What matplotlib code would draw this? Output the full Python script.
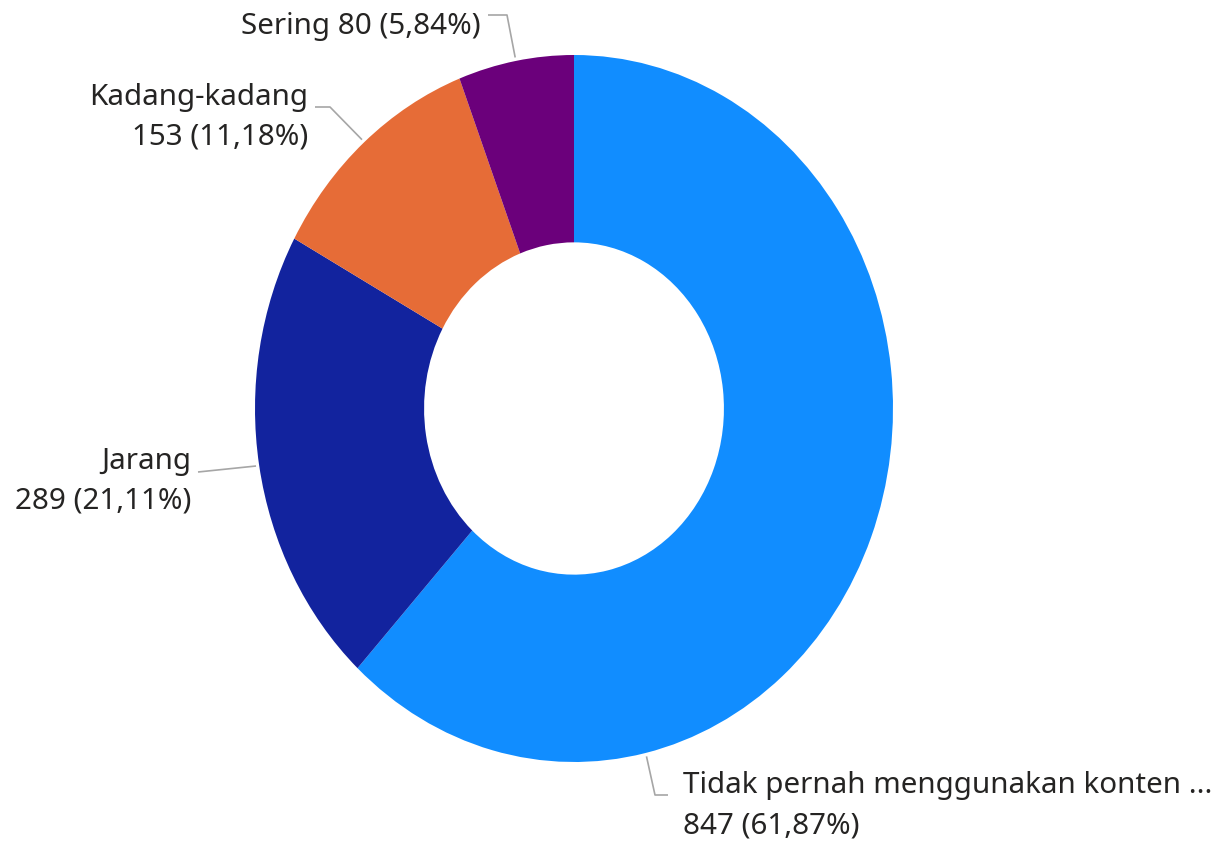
import numpy as np
import matplotlib.pyplot as plt

# data
kategori = ["Tidak pernah menggunakan konten ...", "Jarang", "Kadang-kadang", "Sering"]
jumlah = [847, 289, 153, 80]
persen = ["61,87%", "21,11%", "11,18%", "5,84%"]
warna = ["#118DFF", "#12239E", "#E66C37", "#6B007B"]

W, H = 1226, 848
cx, cy, rx, ry = 574, 408.5, 319, 353.5
TEKS = "#252423"
GARIS = "#A6A6A6"

plt.rcParams["font.family"] = ["Noto Sans", "DejaVu Sans"]

fig = plt.figure(figsize=(W / 100, H / 100), dpi=100)
ax = fig.add_axes([0, 0, 1, 1])
ax.pie(jumlah, colors=warna, startangle=90, counterclock=False, radius=1,
       wedgeprops=dict(width=0.53, linewidth=0))
ax.set_aspect("auto")
ax.set_xlim(-cx / rx, (W - cx) / rx)
ax.set_ylim(-(H - cy) / ry, cy / ry)
ax.axis("off")


def px(x, y):
    # piksel gambar -> koordinat data
    return (x - cx) / rx, (cy - y) / ry


# sudut tengah tiap irisan
total = sum(jumlah)
batas = 90 - 360 * np.cumsum([0] + jumlah) / total
tengah = (batas[:-1] + batas[1:]) / 2
tengah[0] = -77  # posisi garis label Power BI untuk irisan terbesar

# label: (titik siku, titik ujung, posisi teks, ha)
tata = [
    ((655, 795), (668, 795), (683, 806), "left"),
    (None, (198, 472), (191, 481), "right"),
    ((330, 107), (315, 107), (308, 117), "right"),
    ((507, 15), (488, 15), (481, 26), "right"),
]

for i, (siku, ujung, pos, ha) in enumerate(tata):
    a = np.deg2rad(tengah[i])
    titik = [(1.01 * np.cos(a), 1.01 * np.sin(a))]
    if siku is not None:
        titik.append(px(*siku))
    titik.append(px(*ujung))
    xs, ys = zip(*titik)
    ax.plot(xs, ys, color=GARIS, lw=1.2, solid_capstyle="butt")
    if i == 3:
        teks = f"{kategori[i]} {jumlah[i]} ({persen[i]})"
    else:
        teks = f"{kategori[i]}\n{jumlah[i]} ({persen[i]})"
    ax.text(*px(*pos), teks, ha=ha, va="center", multialignment=ha,
            fontsize=21.3, color=TEKS, linespacing=1.5)

fig.savefig("out.png", dpi=100, facecolor="white")
